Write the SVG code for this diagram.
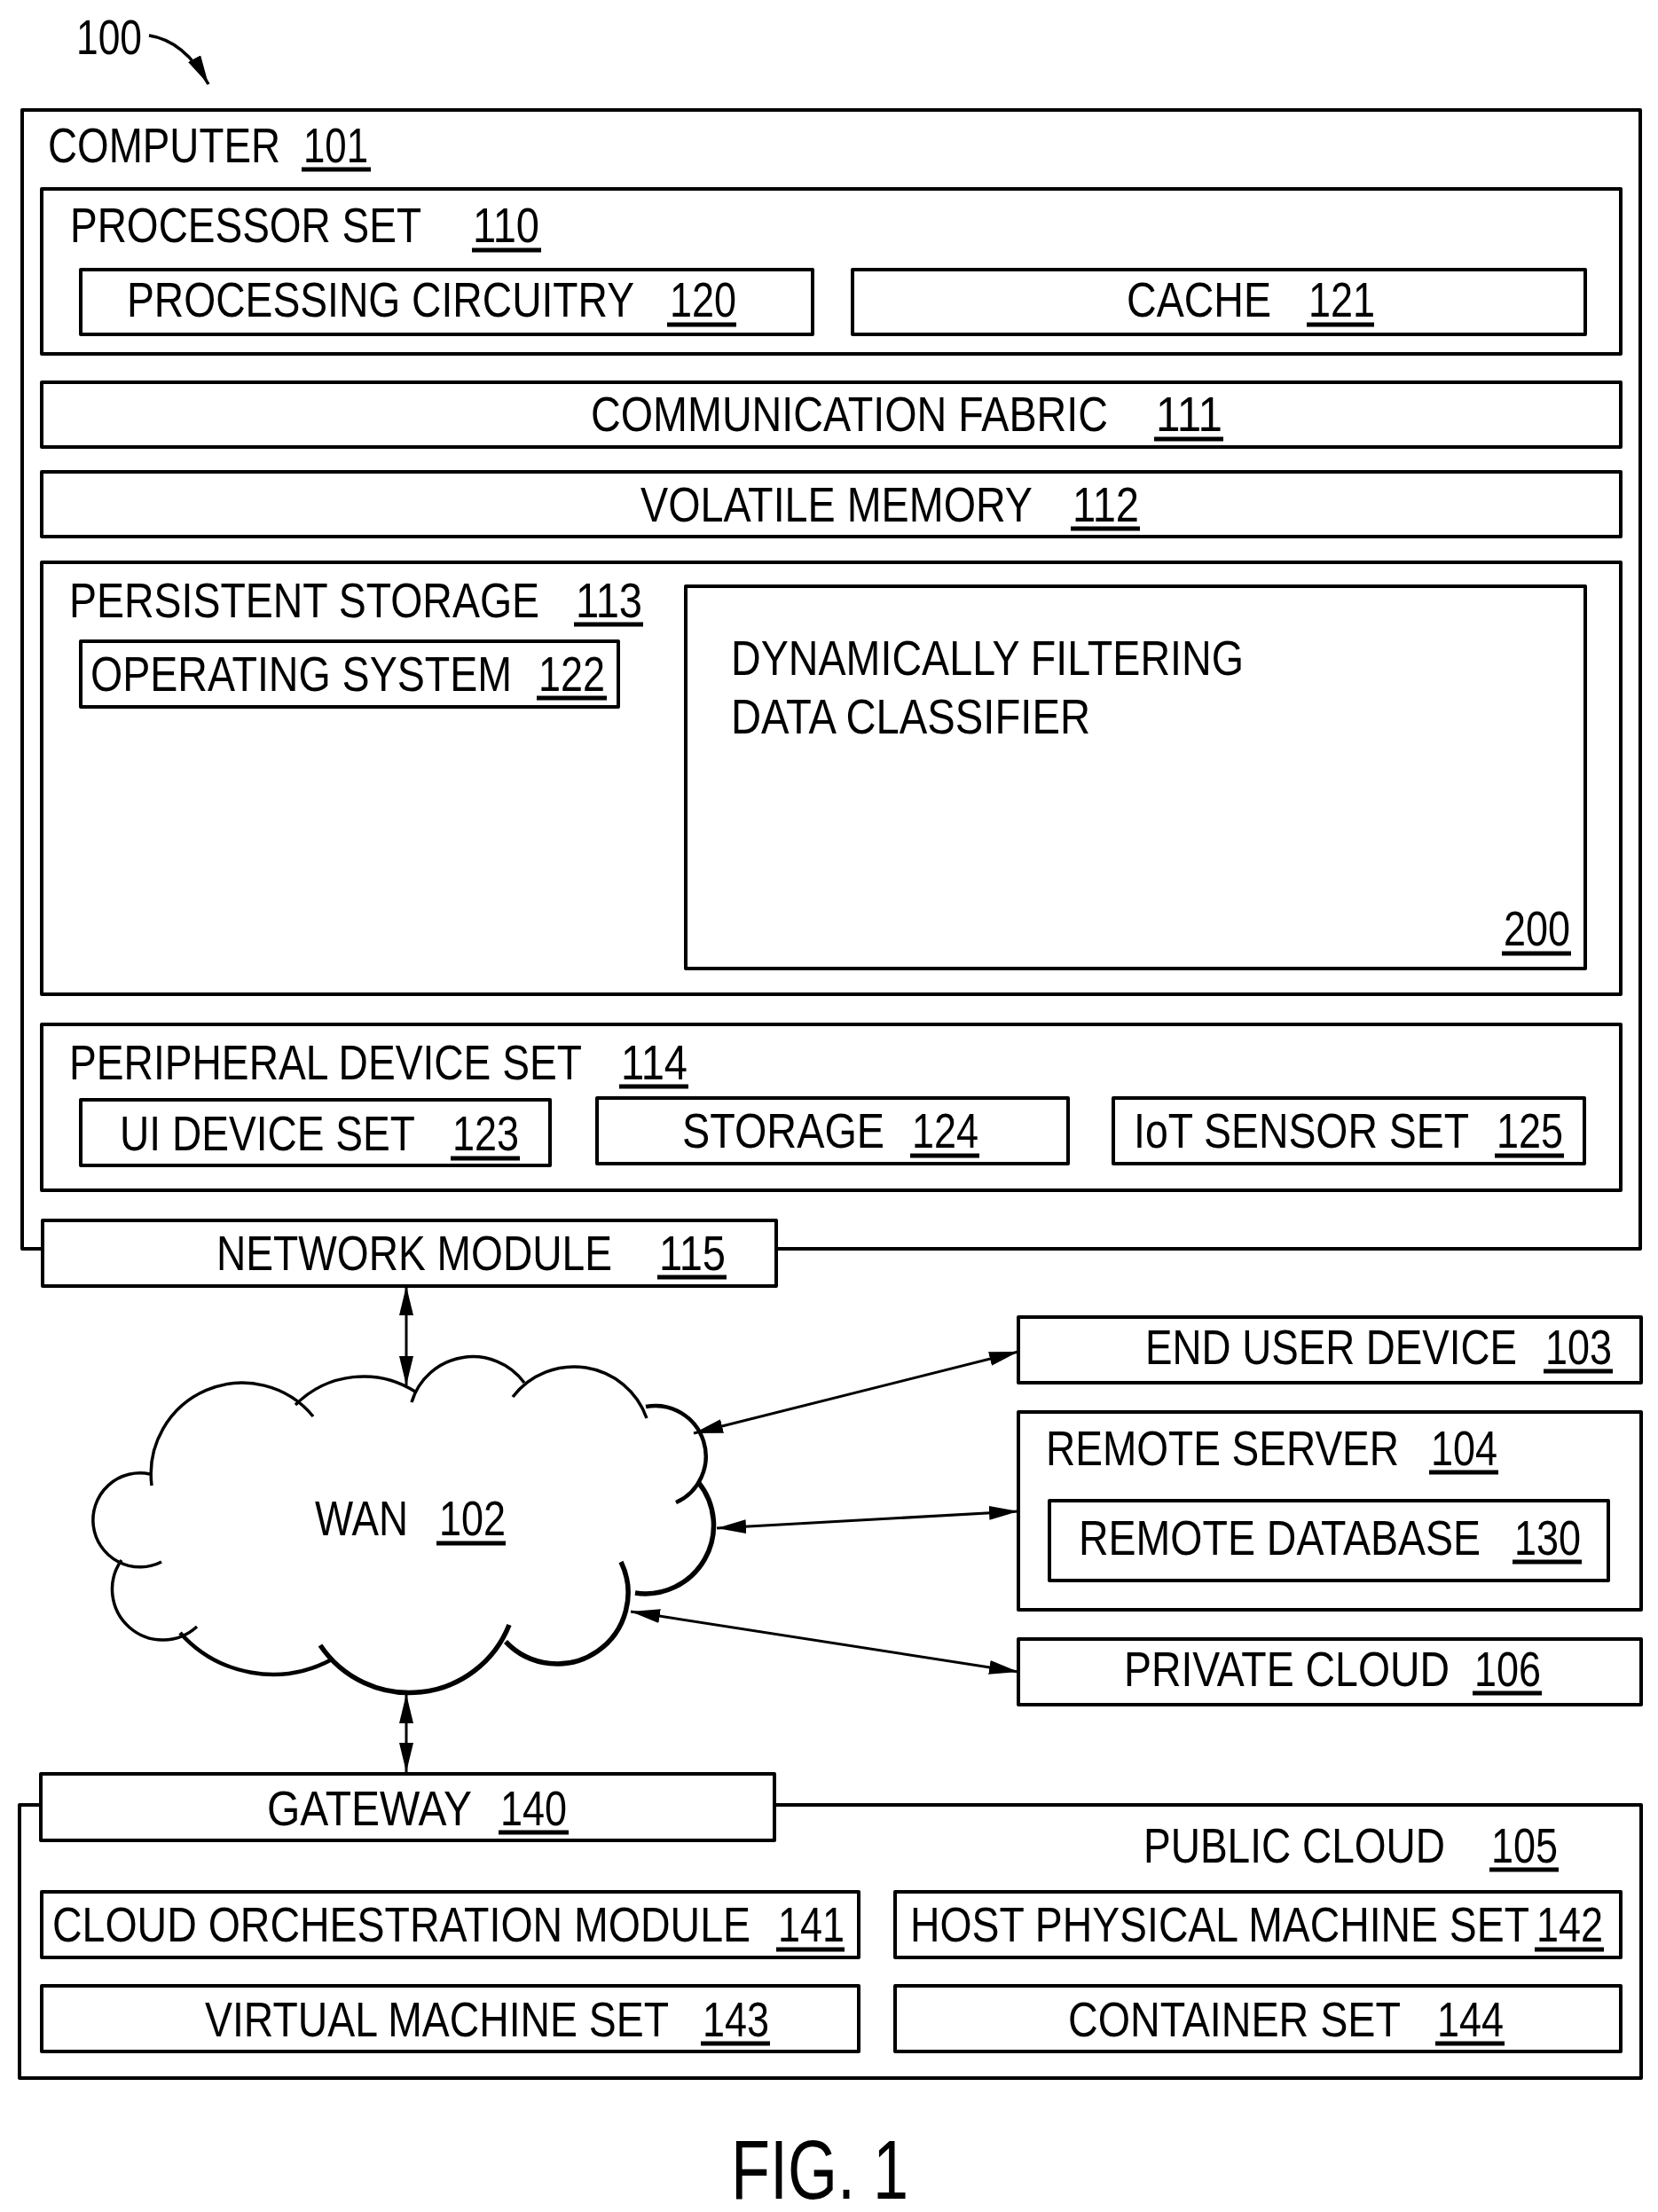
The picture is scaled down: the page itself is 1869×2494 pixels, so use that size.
<svg xmlns="http://www.w3.org/2000/svg" width="1869" height="2494" viewBox="0 0 1869 2494">
<style>
rect{fill:#fff;stroke:#000;stroke-width:4;stroke-linejoin:round}
text{font-family:"Liberation Sans",Arial,sans-serif;font-size:55px;fill:#000;lengthAdjust:spacingAndGlyphs}
.u{stroke:#000;stroke-width:5;fill:none}
.c{stroke:#000;stroke-width:3.5;fill:none}
.t{stroke-width:5.5}
.a{stroke:#000;stroke-width:3;fill:none;marker-start:url(#h);marker-end:url(#h)}
</style>
<defs>
<marker id="h" markerUnits="userSpaceOnUse" markerWidth="34" markerHeight="16" refX="33" refY="8" orient="auto-start-reverse"><path d="M0 0L33 8L0 16Z" fill="#000"/></marker>
<marker id="e" markerUnits="userSpaceOnUse" markerWidth="34" markerHeight="16" refX="33" refY="8" orient="auto"><path d="M0 0L33 8L0 16Z" fill="#000"/></marker>
</defs>
<rect width="1869" height="2494" style="stroke:none"/>
<g id="label-100"><text x="86" y="61" textLength="74" lengthAdjust="spacingAndGlyphs">100</text></g>
<g id="computer-101"><rect x="25" y="124" width="1824" height="1284"/>
<text x="54" y="183" textLength="262" lengthAdjust="spacingAndGlyphs">COMPUTER</text><text x="342" y="183" textLength="73" lengthAdjust="spacingAndGlyphs">101</text><line class="u" x1="340" x2="418" y1="191" y2="191"/></g>
<g id="processor-set-110"><rect x="47" y="213" width="1780" height="186"/>
<text x="79" y="273" textLength="396" lengthAdjust="spacingAndGlyphs">PROCESSOR SET</text><text x="533" y="273" textLength="75" lengthAdjust="spacingAndGlyphs">110</text><line class="u" x1="532" x2="610" y1="282" y2="282"/></g>
<g id="processing-circuitry-120"><rect x="91" y="304" width="825" height="73"/>
<text x="143" y="357" textLength="572" lengthAdjust="spacingAndGlyphs">PROCESSING CIRCUITRY</text><text x="755" y="357" textLength="75" lengthAdjust="spacingAndGlyphs">120</text><line class="u" x1="752" x2="830" y1="366" y2="366"/></g>
<g id="cache-121"><rect x="961" y="304" width="826" height="73"/>
<text x="1270" y="357" textLength="163" lengthAdjust="spacingAndGlyphs">CACHE</text><text x="1475" y="357" textLength="75" lengthAdjust="spacingAndGlyphs">121</text><line class="u" x1="1473" x2="1549" y1="366" y2="366"/></g>
<g id="communication-fabric-111"><rect x="47" y="431" width="1780" height="73"/>
<text x="666" y="486" textLength="583" lengthAdjust="spacingAndGlyphs">COMMUNICATION FABRIC</text><text x="1303" y="486" textLength="75" lengthAdjust="spacingAndGlyphs">111</text><line class="u" x1="1301" x2="1379" y1="495" y2="495"/></g>
<g id="volatile-memory-112"><rect x="47" y="532" width="1780" height="73"/>
<text x="722" y="588" textLength="442" lengthAdjust="spacingAndGlyphs">VOLATILE MEMORY</text><text x="1209" y="588" textLength="75" lengthAdjust="spacingAndGlyphs">112</text><line class="u" x1="1207" x2="1285" y1="596" y2="596"/></g>
<g id="persistent-storage-113"><rect x="47" y="634" width="1780" height="487"/>
<text x="78" y="696" textLength="530" lengthAdjust="spacingAndGlyphs">PERSISTENT STORAGE</text><text x="649" y="696" textLength="75" lengthAdjust="spacingAndGlyphs">113</text><line class="u" x1="647" x2="725" y1="704" y2="704"/></g>
<g id="operating-system-122"><rect x="91" y="723" width="606" height="74"/>
<text x="102" y="779" textLength="475" lengthAdjust="spacingAndGlyphs">OPERATING SYSTEM</text><text x="607" y="779" textLength="75" lengthAdjust="spacingAndGlyphs">122</text><line class="u" x1="605" x2="684" y1="787" y2="787"/></g>
<g id="classifier-200"><rect x="773" y="661" width="1014" height="431"/>
<text x="824" y="761" textLength="578" lengthAdjust="spacingAndGlyphs">DYNAMICALLY FILTERING</text><text x="824" y="827" textLength="405" lengthAdjust="spacingAndGlyphs">DATA CLASSIFIER</text><text x="1695" y="1066" textLength="75" lengthAdjust="spacingAndGlyphs">200</text><line class="u" x1="1693" x2="1771" y1="1075" y2="1075"/></g>
<g id="peripheral-device-set-114"><rect x="47" y="1155" width="1780" height="187"/>
<text x="78" y="1217" textLength="578" lengthAdjust="spacingAndGlyphs">PERIPHERAL DEVICE SET</text><text x="700" y="1217" textLength="75" lengthAdjust="spacingAndGlyphs">114</text><line class="u" x1="698" x2="776" y1="1225" y2="1225"/></g>
<g id="ui-device-set-123"><rect x="91" y="1240" width="529" height="74"/>
<text x="135" y="1297" textLength="333" lengthAdjust="spacingAndGlyphs">UI DEVICE SET</text><text x="510" y="1297" textLength="75" lengthAdjust="spacingAndGlyphs">123</text><line class="u" x1="508" x2="586" y1="1306" y2="1306"/></g>
<g id="storage-124"><rect x="673" y="1238" width="531" height="74"/>
<text x="769" y="1294" textLength="228" lengthAdjust="spacingAndGlyphs">STORAGE</text><text x="1028" y="1294" textLength="75" lengthAdjust="spacingAndGlyphs">124</text><line class="u" x1="1026" x2="1104" y1="1303" y2="1303"/></g>
<g id="iot-sensor-set-125"><rect x="1255" y="1238" width="531" height="74"/>
<text x="1278" y="1294" textLength="378" lengthAdjust="spacingAndGlyphs">IoT SENSOR SET</text><text x="1687" y="1294" textLength="75" lengthAdjust="spacingAndGlyphs">125</text><line class="u" x1="1685" x2="1763" y1="1303" y2="1303"/></g>
<g id="network-module-115"><rect x="48" y="1376" width="827" height="74"/>
<text x="244" y="1432" textLength="446" lengthAdjust="spacingAndGlyphs">NETWORK MODULE</text><text x="743" y="1432" textLength="75" lengthAdjust="spacingAndGlyphs">115</text><line class="u" x1="741" x2="819" y1="1440" y2="1440"/></g>
<g id="end-user-device-103"><rect x="1148" y="1485" width="702" height="74"/>
<text x="1291" y="1538" textLength="419" lengthAdjust="spacingAndGlyphs">END USER DEVICE</text><text x="1742" y="1538" textLength="75" lengthAdjust="spacingAndGlyphs">103</text><line class="u" x1="1740" x2="1818" y1="1546" y2="1546"/></g>
<g id="remote-server-104"><rect x="1148" y="1592" width="702" height="223"/>
<text x="1179" y="1652" textLength="398" lengthAdjust="spacingAndGlyphs">REMOTE SERVER</text><text x="1613" y="1652" textLength="75" lengthAdjust="spacingAndGlyphs">104</text><line class="u" x1="1611" x2="1689" y1="1660" y2="1660"/></g>
<g id="remote-database-130"><rect x="1183" y="1692" width="630" height="90"/>
<text x="1216" y="1753" textLength="453" lengthAdjust="spacingAndGlyphs">REMOTE DATABASE</text><text x="1707" y="1753" textLength="75" lengthAdjust="spacingAndGlyphs">130</text><line class="u" x1="1705" x2="1783" y1="1761" y2="1761"/></g>
<g id="private-cloud-106"><rect x="1148" y="1848" width="702" height="74"/>
<text x="1267" y="1901" textLength="367" lengthAdjust="spacingAndGlyphs">PRIVATE CLOUD</text><text x="1662" y="1901" textLength="75" lengthAdjust="spacingAndGlyphs">106</text><line class="u" x1="1660" x2="1738" y1="1909" y2="1909"/></g>
<g id="wan-102">
<path class="c" d="M171 1675A103 103 0 0 1 353 1597"/>
<path class="c" d="M169 1662A53 53 0 1 0 182 1761"/>
<path class="c" d="M137 1759A57 57 0 0 0 222 1834"/>
<path class="c" style="stroke-width:4.5" d="M203 1841A140 140 0 0 0 374 1871"/>
<path class="c t" d="M361 1855A121 121 0 0 0 574 1832"/>
<path class="c t" d="M570 1851A80 80 0 0 0 700 1761"/>
<path class="c t" d="M716 1796A77 77 0 0 0 787 1671"/>
<path class="c" style="stroke-width:4.5" d="M728 1586A57 57 0 0 1 762 1694"/>
<path class="c" d="M578 1575A87 87 0 0 1 729 1599"/>
<path class="c" d="M464 1581A72 72 0 0 1 591 1559"/>
<path class="c" d="M333 1584A108 108 0 0 1 468 1569"/>
<text x="355" y="1731" textLength="105" lengthAdjust="spacingAndGlyphs">WAN</text><text x="495" y="1731" textLength="75" lengthAdjust="spacingAndGlyphs">102</text><line class="u" x1="492" x2="570" y1="1740" y2="1740"/></g>
<g id="public-cloud-105"><rect x="22" y="2035" width="1828" height="308"/>
<text x="1289" y="2100" textLength="340" lengthAdjust="spacingAndGlyphs">PUBLIC CLOUD</text><text x="1681" y="2100" textLength="75" lengthAdjust="spacingAndGlyphs">105</text><line class="u" x1="1679" x2="1757" y1="2108" y2="2108"/></g>
<g id="gateway-140"><rect x="46" y="2000" width="827" height="75"/>
<text x="301" y="2058" textLength="231" lengthAdjust="spacingAndGlyphs">GATEWAY</text><text x="564" y="2058" textLength="75" lengthAdjust="spacingAndGlyphs">140</text><line class="u" x1="562" x2="641" y1="2066" y2="2066"/></g>
<g id="cloud-orchestration-module-141"><rect x="47" y="2133" width="921" height="74"/>
<text x="59" y="2189" textLength="787" lengthAdjust="spacingAndGlyphs">CLOUD ORCHESTRATION MODULE</text><text x="877" y="2189" textLength="75" lengthAdjust="spacingAndGlyphs">141</text><line class="u" x1="875" x2="952" y1="2198" y2="2198"/></g>
<g id="host-physical-machine-set-142"><rect x="1009" y="2133" width="818" height="74"/>
<text x="1026" y="2189" textLength="698" lengthAdjust="spacingAndGlyphs">HOST PHYSICAL MACHINE SET</text><text x="1732" y="2189" textLength="75" lengthAdjust="spacingAndGlyphs">142</text><line class="u" x1="1730" x2="1808" y1="2198" y2="2198"/></g>
<g id="virtual-machine-set-143"><rect x="47" y="2239" width="921" height="74"/>
<text x="231" y="2296" textLength="523" lengthAdjust="spacingAndGlyphs">VIRTUAL MACHINE SET</text><text x="792" y="2296" textLength="75" lengthAdjust="spacingAndGlyphs">143</text><line class="u" x1="790" x2="868" y1="2304" y2="2304"/></g>
<g id="container-set-144"><rect x="1009" y="2239" width="818" height="74"/>
<text x="1204" y="2296" textLength="375" lengthAdjust="spacingAndGlyphs">CONTAINER SET</text><text x="1620" y="2296" textLength="75" lengthAdjust="spacingAndGlyphs">144</text><line class="u" x1="1618" x2="1696" y1="2304" y2="2304"/></g>
<g id="connectors">
<line class="a" x1="458" y1="1450" x2="458" y2="1562"/>
<line class="a" x1="458" y1="1910" x2="458" y2="1998"/>
<line class="a" x1="1148" y1="1524" x2="782" y2="1616"/>
<line class="a" x1="1148" y1="1704" x2="808" y2="1723"/>
<line class="a" x1="1148" y1="1885" x2="711" y2="1817"/>
<path d="M168 40Q208 46 235 95" fill="none" stroke="#000" stroke-width="3.5" marker-end="url(#e)"/>
</g>
<text x="824" y="2479" style="font-size:95px" textLength="200" lengthAdjust="spacingAndGlyphs">FIG. 1</text>
</svg>
